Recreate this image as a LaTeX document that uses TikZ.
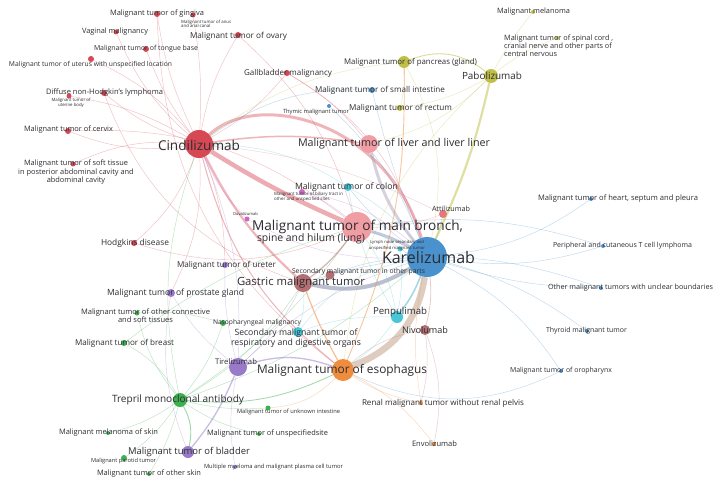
\documentclass[tikz,border=0pt]{standalone}
\usepackage{fontspec}
\setmainfont{Open Sans}
\pgfdeclarelayer{bgfill}
\pgfdeclarelayer{edges}
\pgfsetlayers{bgfill,edges,main}
\definecolor{cred}{RGB}{214,72,84}
\definecolor{cpink}{RGB}{240,158,164}
\definecolor{cblue}{RGB}{74,146,206}
\definecolor{corange}{RGB}{240,140,62}
\definecolor{cpurple}{RGB}{152,122,200}
\definecolor{cgreen}{RGB}{62,176,80}
\definecolor{ccyan}{RGB}{72,198,214}
\definecolor{colive}{RGB}{192,192,72}
\definecolor{cbrown}{RGB}{178,110,112}
\definecolor{cmag}{RGB}{204,104,196}
\definecolor{catti}{RGB}{230,120,124}
\definecolor{txt}{RGB}{45,45,50}
\newlength\fitlen
\newcommand\setfit[3]{\fontsize{10}{12}\selectfont\settowidth\fitlen{#2}\pgfmathsetmacro\fitsz{10*#1/\fitlen}\fontsize{\fitsz}{#3}\selectfont}
\newcommand\fitw[2]{\setfit{#1}{#2}{12}#2}
\begin{document}
\begin{tikzpicture}[x=1pt,y=-1pt,
  lbl/.style={inner sep=0pt, text=txt},
  dot/.style={circle, inner sep=0pt, draw=none},
  e/.style={draw=#1, line width=0.45pt, draw opacity=0.35}]
\begin{pgfonlayer}{bgfill}
\fill[white] (0,0) rectangle (727,487);
\end{pgfonlayer}
\useasboundingbox (0,0) rectangle (727,487);

% ---------- circles ----------
\node[dot, fill=cred, minimum size=28pt] (cind) at (199,144) {};
\node[dot, fill=cblue, minimum size=40pt] (kare) at (427,257) {};
\node[dot, fill=cpink, minimum size=30pt] (bronch) at (357,227) {};
\node[dot, fill=cpink, minimum size=18pt] (liver) at (369,144) {};
\node[dot, fill=corange, minimum size=22pt] (esoph) at (343,370) {};
\node[dot, fill=cbrown, minimum size=18pt] (gastric) at (303,283) {};
\node[dot, fill=cpurple, minimum size=18pt] (tire) at (238,367) {};
\node[dot, fill=cgreen, minimum size=14pt] (trep) at (180,400) {};
\node[dot, fill=colive, minimum size=14pt] (pabo) at (491,76) {};
\node[dot, fill=cpurple, minimum size=12pt] (bladder) at (188,452) {};
\node[dot, fill=ccyan, minimum size=12pt] (penp) at (397,317) {};
\node[dot, fill=cbrown, minimum size=10pt] (nivo) at (425,330) {};
\node[dot, fill=colive, minimum size=12pt] (pancreas) at (404,62) {};
\node[dot, fill=cpurple, minimum size=8pt] (prostate) at (171,293) {};
\node[dot, fill=ccyan, minimum size=10pt] (secresp) at (298,332) {};
\node[dot, fill=cbrown, minimum size=9pt] (secother) at (330,275) {};
\node[dot, fill=ccyan, minimum size=8pt] (colon) at (348,187) {};
\node[dot, fill=cmag, minimum size=6pt] (biliary) at (302,192) {};
\node[dot, fill=cmag, minimum size=5pt] (duval) at (247,219) {};
\node[dot, fill=catti, minimum size=8pt] (atti) at (443,214) {};
\node[dot, fill=ccyan, minimum size=5pt] (lymph) at (400,249) {};
\node[dot, fill=cpurple, minimum size=6pt] (ureter) at (225,265) {};
\node[dot, fill=cred, minimum size=6pt] (hodgkin) at (134,243) {};
\node[dot, fill=cgreen, minimum size=5pt] (connective) at (137,313) {};
\node[dot, fill=cgreen, minimum size=6pt] (naso) at (223,323) {};
\node[dot, fill=cgreen, minimum size=6pt] (breast) at (124,343) {};
\node[dot, fill=cgreen, minimum size=4pt] (melskin) at (108,433) {};
\node[dot, fill=cgreen, minimum size=6pt] (parotid) at (124,458) {};
\node[dot, fill=cgreen, minimum size=4pt] (otherskin) at (149,474) {};
\node[dot, fill=cpurple, minimum size=4pt] (myeloma) at (235,467) {};
\node[dot, fill=cgreen, minimum size=5pt] (unknown) at (268,408) {};
\node[dot, fill=cgreen, minimum size=4pt] (unspec) at (259,434) {};
\node[dot, fill=corange, minimum size=4pt] (renal) at (421,403) {};
\node[dot, fill=corange, minimum size=4pt] (envo) at (434,444) {};
\node[dot, fill=cblue, minimum size=4pt] (heart) at (591,199) {};
\node[dot, fill=cblue, minimum size=4pt] (periph) at (603,246) {};
\node[dot, fill=cblue, minimum size=4pt] (othermal) at (601,288) {};
\node[dot, fill=cblue, minimum size=4pt] (thyroid) at (587,331) {};
\node[dot, fill=cblue, minimum size=4pt] (oro) at (561,371) {};
\node[dot, fill=colive, minimum size=4pt] (melanoma) at (533,12) {};
\node[dot, fill=colive, minimum size=4pt] (spinal) at (557,38) {};
\node[dot, fill=cblue, minimum size=6pt] (smallint) at (372,90) {};
\node[dot, fill=colive, minimum size=6pt] (rectum) at (400,108) {};
\node[dot, fill=cblue, minimum size=4pt] (thymic) at (329,106) {};
\node[dot, fill=cred, minimum size=6pt] (gallbl) at (287,73) {};
\node[dot, fill=cred, minimum size=6pt] (ovary) at (238,35) {};
\node[dot, fill=cred, minimum size=6pt] (gingiva) at (157,14) {};
\node[dot, fill=cred, minimum size=5pt] (anus) at (193,15) {};
\node[dot, fill=cred, minimum size=5pt] (vaginal) at (116,32) {};
\node[dot, fill=cred, minimum size=6pt] (tongue) at (146,49) {};
\node[dot, fill=cred, minimum size=6pt] (uterus) at (91,59) {};
\node[dot, fill=cred, minimum size=6pt] (dnhl) at (104,93) {};
\node[dot, fill=cred, minimum size=5pt] (uterine) at (69,96) {};
\node[dot, fill=cred, minimum size=6pt] (cervix) at (68,131) {};
\node[dot, fill=cred, minimum size=5pt] (softt) at (73,164) {};

% ---------- edges ----------
\begin{pgfonlayer}{edges}
\foreach \t/\b in {gingiva/8, anus/-6, ovary/10, vaginal/12, tongue/8, uterus/-12, dnhl/10, uterine/-10, cervix/14, softt/-14, hodgkin/14, gallbl/-10, ureter/10, prostate/14}
  \draw[e=cred] (cind) to[bend left=\b] (\t);
\draw[e=cred] (bronch) to[bend right=15] (ovary);
\draw[e=cred] (bronch) to[bend left=20] (hodgkin);
\draw[e=cred] (liver) to[bend right=10] (gallbl);
\draw[e=cred] (kare) to[bend right=20] (gallbl);
\draw[e=cred] (gastric) to[bend left=25] (dnhl);
\draw[e=cred] (bronch) to[bend right=20] (cervix);
\draw[e=cred] (esoph) to[bend left=25] (gingiva);
\draw[e=cred, line width=4.5pt, draw opacity=0.45] (cind) to[bend right=4] (bronch);
\draw[e=cred, line width=3pt, draw opacity=0.4] (cind) .. controls +(60,-55) and +(-40,-135) .. (kare);
\draw[e=cred, line width=2.2pt, draw opacity=0.4] (cind) to[bend right=10] (gastric);
\draw[e=cred, line width=1.5pt, draw opacity=0.4] (cind) to[bend left=8] (liver);
\draw[e=cred, line width=1pt, draw opacity=0.4] (cind) to[bend right=18] (esoph);
% blue
\foreach \t/\b in {heart/-14, periph/-12, othermal/-8, thyroid/10, oro/14, smallint/4, thymic/-12, colon/8, lymph/6, atti/-6, secother/-8}
  \draw[e=cblue] (kare) to[bend left=\b] (\t);
\draw[e=cblue] (bronch) to[bend left=12] (periph);
\draw[e=cblue] (gastric) to[bend left=18] (othermal);
\draw[e=cblue] (esoph) to[bend right=25] (oro);
\draw[e=cblue] (cind) to[bend left=18] (smallint);
\draw[e=cblue!60!cpink, line width=3pt, draw opacity=0.5] (kare) to[bend right=6] (bronch);
\draw[e=cblue!55!cbrown, line width=4pt, draw opacity=0.5] (kare) to[bend left=22] (gastric);
\draw[e=cblue!35!corange, line width=6.5pt, draw opacity=0.45] (kare) to[bend left=30] (esoph);
\draw[e=cblue!45!cpink, line width=3pt, draw opacity=0.45] (kare) to[bend left=12] (liver);
\draw[e=cblue!50!ccyan, line width=1.5pt, draw opacity=0.5] (kare) to[bend left=8] (penp);
\draw[e=cbrown, line width=0.8pt] (kare) to[bend left=10] (nivo);
% olive
\draw[e=colive] (pabo) to[bend left=5] (melanoma);
\draw[e=colive] (pabo) to[bend left=8] (spinal);
\draw[e=colive, line width=0.9pt, draw opacity=0.55] (pabo) to[bend right=30] (pancreas);
\draw[e=colive] (pabo) to[bend left=10] (rectum);
\draw[e=colive] (pabo) to[bend left=15] (liver);
\draw[e=colive, line width=2.2pt, draw opacity=0.5] (pabo) to[bend left=6] (kare);
\draw[e=colive] (pancreas) to[bend left=8] (rectum);
\draw[e=colive] (pancreas) to[bend left=20] (kare);
\draw[e=colive] (pancreas) to[bend right=15] (cind);
\draw[e=colive] (pabo) to[bend right=20] (esoph);
% purple
\draw[e=cpurple, line width=1.3pt, draw opacity=0.5] (tire) to[bend left=18] (esoph);
\draw[e=cpurple, line width=1.3pt, draw opacity=0.5] (tire) to[bend left=8] (bladder);
\foreach \t/\b in {prostate/10, gastric/-10, ureter/8, myeloma/-10, cind/-12, kare/12}
  \draw[e=cpurple] (tire) to[bend left=\b] (\t);
\draw[e=cpurple] (bladder) to[bend left=15] (prostate);
% green
\foreach \t/\b in {breast/-15, melskin/10, parotid/10, otherskin/8, unspec/-10, unknown/-8, connective/12, naso/-10, gastric/-12, bronch/-10, cind/15, kare/-10}
  \draw[e=cgreen] (trep) to[bend left=\b] (\t);
\draw[e=cgreen, line width=0.9pt, draw opacity=0.5] (trep) to[bend left=20] (bladder);
\draw[e=cgreen, line width=0.8pt, draw opacity=0.5] (trep) to[bend right=15] (esoph);
\draw[e=cgreen] (connective) to[bend left=10] (naso);
\draw[e=cgreen] (breast) to[bend left=10] (bronch);
% cyan
\foreach \t/\b in {colon/10, secresp/-10, lymph/-8, bronch/-12, esoph/10}
  \draw[e=ccyan] (penp) to[bend left=\b] (\t);
\draw[e=ccyan] (colon) to[bend right=15] (cind);
\draw[e=ccyan] (secresp) to[bend left=20] (kare);
\draw[e=ccyan] (secresp) to[bend right=10] (gastric);
\draw[e=ccyan] (lymph) to[bend right=10] (bronch);
\draw[e=ccyan] (colon) to[bend left=10] (kare);
% orange
\draw[e=corange] (esoph) to[bend right=10] (renal);
\draw[e=corange] (esoph) to[bend left=12] (envo);
\draw[e=corange, line width=1.2pt, draw opacity=0.55] (esoph) to[bend left=4] (gastric);
\draw[e=corange, line width=0.9pt, draw opacity=0.5] (esoph) to[bend right=12] (pancreas);
\draw[e=corange] (esoph) to[bend left=20] (unknown);
\draw[e=corange] (renal) to[bend left=10] (kare);
% brown
\draw[e=cbrown] (nivo) to[bend left=10] (renal);
\draw[e=cbrown] (nivo) to[bend left=15] (envo);
\draw[e=cbrown] (nivo) to[bend right=15] (esoph);
\draw[e=cbrown] (gastric) to[bend right=10] (secother);
\draw[e=cbrown, line width=1.3pt, draw opacity=0.5] (gastric) to[bend right=8] (bronch);
% magenta
\draw[e=cmag] (biliary) to[bend left=10] (bronch);
\draw[e=cmag] (biliary) to[bend left=15] (kare);
\draw[e=cmag] (duval) to[bend right=15] (kare);
\draw[e=cmag] (duval) to[bend left=10] (cind);
\draw[e=catti] (atti) to[bend left=10] (bronch);
\draw[e=catti] (atti) to[bend right=10] (cind);
\end{pgfonlayer}

% ---------- labels ----------
\node[lbl] (L-cind) at (199,145) {\fitw{82}{Cindilizumab}};
\node[lbl] (L-kare) at (428.5,257) {\fitw{93}{Karelizumab}};
\node[lbl] (L-bronch1) at (357.5,227) {\fitw{211}{Malignant tumor of main bronch,}};
\node[lbl] (L-bronch2) at (311,239) {\fitw{108}{spine and hilum (lung)}};
\node[lbl] (L-liver) at (394,144) {\fitw{192}{Malignant tumor of liver and liver liner}};
\node[lbl] (L-esoph) at (342,370) {\fitw{170}{Malignant tumor of esophagus}};
\node[lbl] (L-gastric) at (301,283) {\fitw{128}{Gastric malignant tumor}};
\node[lbl] (L-tire) at (236,362) {\fitw{42}{Tirelizumab}};
\node[lbl] (L-trep) at (178,400) {\fitw{132}{Trepril monoclonal antibody}};
\node[lbl] (L-pabo) at (492,76) {\fitw{60}{Pabolizumab}};
\node[lbl] (L-bladder) at (189,452) {\fitw{122}{Malignant tumor of bladder}};
\node[lbl] (L-penp) at (400,312) {\fitw{54}{Penpulimab}};
\node[lbl] (L-nivo) at (425,330) {\fitw{46}{Nivolumab}};
\node[lbl] (L-pancreas) at (410.5,62) {\fitw{133}{Malignant tumor of pancreas (gland)}};
\node[lbl] (L-prostate) at (175.5,293) {\fitw{137}{Malignant tumor of prostate gland}};
\node[lbl, align=center, font={\setfit{123}{Secondary malignant tumor of}{10}}] (L-secresp) at (296,338) {Secondary malignant tumor of\\respiratory and digestive organs};
\node[lbl] (L-secother) at (358.5,272) {\fitw{133}{Secondary malignant tumor in other parts}};
\node[lbl] (L-colon) at (346.5,187) {\fitw{103}{Malignant tumor of colon}};
\node[lbl, align=left, anchor=west, font={\setfit{69}{Malignant tumor of biliary tract in}{5}}] (L-biliary) at (274,196.5) {Malignant tumor of biliary tract in\\other and unspecified sites};
\node[lbl] (L-duval) at (245.5,214) {\fitw{25}{Duvalizumab}};
\node[lbl] (L-atti) at (451,209) {\fitw{38}{Attilizumab}};
\node[lbl, align=center, font={\setfit{54}{Lymph node secondary and}{6}}] (L-lymph) at (397,245) {Lymph node secondary and\\unspecified malignant tumor};
\node[lbl] (L-ureter) at (226.5,265) {\fitw{99}{Malignant tumor of ureter}};
\node[lbl] (L-hodgkin) at (135,243) {\fitw{68}{Hodgkins disease}};
\node[lbl, align=center, font={\setfit{129}{Malignant tumor of other connective}{8}}] (L-connective) at (145.5,315.5) {Malignant tumor of other connective\\and soft tissues};
\node[lbl] (L-naso) at (257,323) {\fitw{88}{Nasopharyngeal malignancy}};
\node[lbl] (L-breast) at (124.5,343) {\fitw{99}{Malignant tumor of breast}};
\node[lbl] (L-melskin) at (108.5,433) {\fitw{99}{Malignant melanoma of skin}};
\node[lbl] (L-parotid) at (123.5,461) {\fitw{65}{Malignant parotid tumor}};
\node[lbl] (L-otherskin) at (149,474) {\fitw{104}{Malignant tumor of other skin}};
\node[lbl] (L-myeloma) at (273.5,467) {\fitw{139}{Multiple myeloma and malignant plasma cell tumor}};
\node[lbl] (L-unknown) at (288.5,412) {\fitw{103}{Malignant tumor of unknown intestine}};
\node[lbl] (L-unspec) at (267.5,434) {\fitw{121}{Malignant tumor of unspecifiedsite}};
\node[lbl] (L-renal) at (443,403) {\fitw{162}{Renal malignant tumor without renal pelvis}};
\node[lbl] (L-envo) at (434.5,444) {\fitw{45}{Envolizumab}};
\node[lbl] (L-heart) at (618,199) {\fitw{160}{Malignant tumor of heart, septum and pleura}};
\node[lbl] (L-periph) at (622.5,246) {\fitw{139}{Peripheral and cutaneous T cell lymphoma}};
\node[lbl] (L-othermal) at (630.5,288) {\fitw{165}{Other malignant tumors with unclear boundaries}};
\node[lbl] (L-thyroid) at (586.5,331) {\fitw{81}{Thyroid malignant tumor}};
\node[lbl] (L-oro) at (561,371) {\fitw{102}{Malignant tumor of oropharynx}};
\node[lbl] (L-melanoma) at (533.5,12) {\fitw{73}{Malignant melanoma}};
\node[lbl, align=left, anchor=west, font={\setfit{109}{Malignant tumor of spinal cord ,}{8}}] (L-spinal) at (504,46) {Malignant tumor of spinal cord ,\\cranial nerve and other parts of\\central nervous};
\node[lbl] (L-smallint) at (380,90) {\fitw{130}{Malignant tumor of small intestine}};
\node[lbl] (L-rectum) at (400.5,108) {\fitw{103}{Malignant tumor of rectum}};
\node[lbl] (L-thymic) at (316,112) {\fitw{66}{Thymic malignant tumor}};
\node[lbl] (L-gallbl) at (288,73) {\fitw{88}{Gallbladder malignancy}};
\node[lbl] (L-ovary) at (238.5,36) {\fitw{97}{Malignant tumor of ovary}};
\node[lbl] (L-gingiva) at (157,14) {\fitw{94}{Malignant tumor of gingiva}};
\node[lbl, align=left, anchor=west, font={\setfit{50}{Malignant tumor of anus}{4.5}}] (L-anus) at (181,24) {Malignant tumor of anus\\and anal canal};
\node[lbl] (L-vaginal) at (115,32) {\fitw{66}{Vaginal malignancy}};
\node[lbl] (L-tongue) at (146,49) {\fitw{104}{Malignant tumor of tongue base}};
\node[lbl] (L-uterus) at (90.5,65) {\fitw{163}{Malignant tumor of uterus with unspecified location}};
\node[lbl] (L-dnhl) at (104.5,93) {\fitw{117}{Diffuse non-Hodgkin's lymphoma}};
\node[lbl, align=center, font={\setfit{39}{Malignant tumor of}{5}}] (L-uterine) at (71,103) {Malignant tumor of\\uterine body};
\node[lbl] (L-cervix) at (68.5,130) {\fitw{89}{Malignant tumor of cervix}};
\node[lbl, align=center, font={\setfit{104}{Malignant tumor of soft tissue}{8.5}}] (L-softt) at (76,172.5) {Malignant tumor of soft tissue\\in posterior abdominal cavity and\\abdominal cavity};
\end{tikzpicture}
\end{document}
